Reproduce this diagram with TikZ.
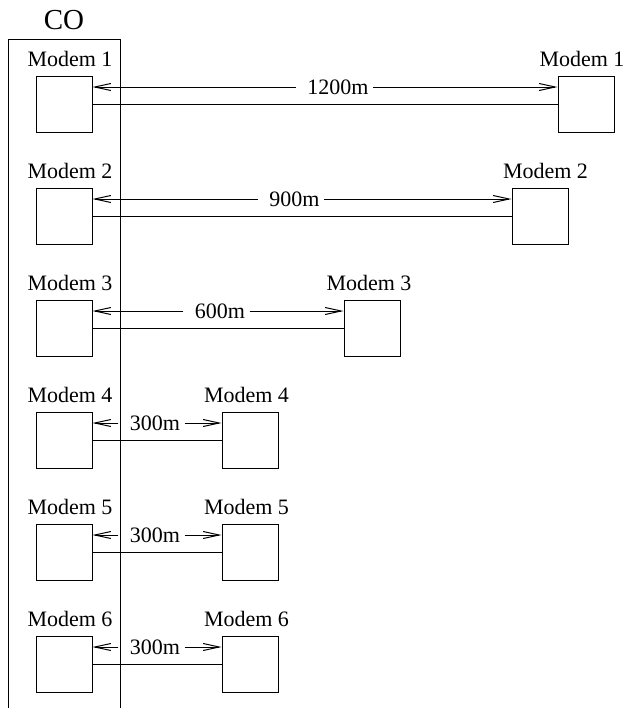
\documentclass[tikz,border=0pt]{standalone}
\usepackage{fontspec}
\setmainfont{Liberation Serif}
\usetikzlibrary{arrows.meta,calc}

\begin{document}
\begin{tikzpicture}[x=0.5pt,y=-0.5pt,line width=0.5pt,
  >={Straight Barb[length=8pt,width=3.5pt]},
  font=\fontsize{11}{13}\selectfont,
  modem/.style={draw,minimum size=28pt,inner sep=0pt},
  tag/.style={anchor=base,inner sep=0pt},
  dist/.style={inner sep=2pt},
  dim/.style={->,shorten <=3.5pt}]
  \useasboundingbox (0,0) rectangle (624,708);
  \node[anchor=base,font=\fontsize{14.5}{16}\selectfont] (co) at (64,29) {CO};
  \draw (8,708) -- (8,39) -- (120,39) -- (120,708);
  \foreach \i/\rx/\rs/\len/\lx in {1/558/-4/1200m/338,2/512/5.5/900m/294.5,3/344/-3/600m/220,
      4/222/-3.5/300m/155,5/222/-3.5/300m/155,6/222/-3.5/300m/155}{
    \pgfmathsetmacro{\y}{76+112*(\i-1)}
    \node[modem] (l\i) at (64,\y+28) {};
    \node[modem] (r\i) at (\rx+28,\y+28) {};
    \node[tag] (lt\i) at ($(l\i.north)+(6,-9.5)$) {Modem \i};
    \node[tag] (rt\i) at ($(r\i.north)+(\rs,-9.5)$) {Modem \i};
    \node[dist] (d\i) at (\lx,\y+11) {\len};
    \draw[dim] (d\i.west) -- (l\i.east |- d\i.center);
    \draw[->] (d\i.east) -- (r\i.west |- d\i.center);
    \draw (l\i.east) -- (r\i.west);
  }
\end{tikzpicture}
\end{document}
